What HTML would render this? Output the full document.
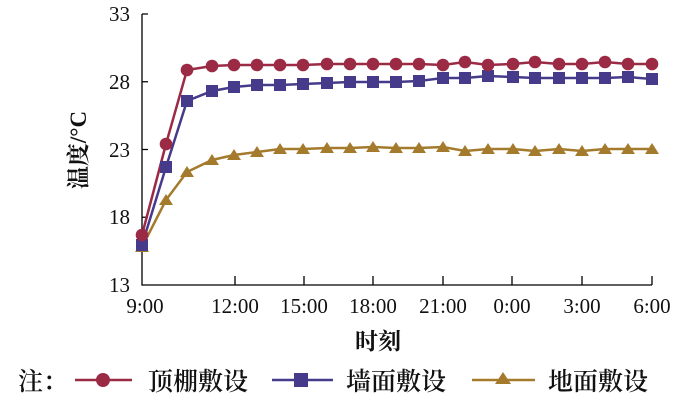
<!DOCTYPE html>
<html><head><meta charset="utf-8"><style>
body{margin:0;background:#fff;}
svg{display:block;}
.t{font-family:"Liberation Serif","Noto Serif CJK SC",serif;font-size:21px;fill:#111;}
.c{font-family:"Liberation Serif","Noto Serif CJK SC",serif;font-weight:bold;fill:#111;}
.l{font-family:"Liberation Serif","Noto Serif CJK SC",serif;font-size:25px;font-weight:600;fill:#111;}
</style></head><body>
<svg width="700" height="402" viewBox="0 0 700 402">
<g stroke="#000" stroke-width="1.3" fill="none">
<path d="M142,14 V285 H652"/>
<path d="M142,14h6M142,81.75h6M142,149.5h6M142,217.25h6"/>
<path d="M235,285v-9M304,285v-9M373,285v-9M443,285v-9M512,285v-9M582,285v-9M652,285v-9"/>
</g>
<g class="t" text-anchor="end">
<text x="130" y="21">33</text><text x="130" y="89">28</text><text x="130" y="157">23</text><text x="130" y="224">18</text><text x="130" y="292">13</text>
</g>
<g class="t" text-anchor="middle">
<text x="145" y="313">9:00</text><text x="235" y="313">12:00</text><text x="304" y="313">15:00</text><text x="373" y="313">18:00</text><text x="443" y="313">21:00</text><text x="512" y="313">0:00</text><text x="582" y="313">3:00</text><text x="652" y="313">6:00</text>
</g>
<text class="c" x="378" y="349" text-anchor="middle" font-size="23">时刻</text>
<text class="c" transform="translate(86,150) rotate(-90)" text-anchor="middle" font-size="23">温度/°C</text>
<polyline fill="none" stroke="#a47a2c" stroke-width="2.5" points="142,247 166,200 187,172 212,160 234,155 257,152 280,149 303,149 327,148 350,148 373,147 396,148 419,148 443,147 465,151 488,149 513,149 535,151 559,149 582,151 605,149 628,149 652,149"/>
<polyline fill="none" stroke="#463a8a" stroke-width="2.5" points="142,245 166,167 187,101 212,91 234,87 257,85 280,85 303,84 327,83 350,82 373,82 396,82 419,81 443,78 465,78 488,76 513,77 535,78 559,78 582,78 605,78 628,77 652,79"/>
<polyline fill="none" stroke="#9b2a45" stroke-width="2.5" points="142,235 166,144 187,70 212,66 234,65 257,65 280,65 303,65 327,64 350,64 373,64 396,64 419,64 443,65 465,62 488,65 513,64 535,62 559,64 582,64 605,62 628,64 652,64"/>
<g fill="#a47a2c">
<path d="M142,241l-7,11h14zM166,194l-7,11h14zM187,166l-7,11h14zM212,154l-7,11h14zM234,149l-7,11h14zM257,146l-7,11h14zM280,143l-7,11h14zM303,143l-7,11h14zM327,142l-7,11h14zM350,142l-7,11h14zM373,141l-7,11h14zM396,142l-7,11h14zM419,142l-7,11h14zM443,141l-7,11h14zM465,145l-7,11h14zM488,143l-7,11h14zM513,143l-7,11h14zM535,145l-7,11h14zM559,143l-7,11h14zM582,145l-7,11h14zM605,143l-7,11h14zM628,143l-7,11h14zM652,143l-7,11h14z"/>
</g>
<g fill="#463a8a">
<rect x="136" y="239" width="12" height="12"/><rect x="160" y="161" width="12" height="12"/><rect x="181" y="95" width="12" height="12"/><rect x="206" y="85" width="12" height="12"/><rect x="228" y="81" width="12" height="12"/><rect x="251" y="79" width="12" height="12"/><rect x="274" y="79" width="12" height="12"/><rect x="297" y="78" width="12" height="12"/><rect x="321" y="77" width="12" height="12"/><rect x="344" y="76" width="12" height="12"/><rect x="367" y="76" width="12" height="12"/><rect x="390" y="76" width="12" height="12"/><rect x="413" y="75" width="12" height="12"/><rect x="437" y="72" width="12" height="12"/><rect x="459" y="72" width="12" height="12"/><rect x="482" y="70" width="12" height="12"/><rect x="507" y="71" width="12" height="12"/><rect x="529" y="72" width="12" height="12"/><rect x="553" y="72" width="12" height="12"/><rect x="576" y="72" width="12" height="12"/><rect x="599" y="72" width="12" height="12"/><rect x="622" y="71" width="12" height="12"/><rect x="646" y="73" width="12" height="12"/>
</g>
<g fill="#9b2a45">
<circle cx="142" cy="235" r="6.3"/><circle cx="166" cy="144" r="6.3"/><circle cx="187" cy="70" r="6.3"/><circle cx="212" cy="66" r="6.3"/><circle cx="234" cy="65" r="6.3"/><circle cx="257" cy="65" r="6.3"/><circle cx="280" cy="65" r="6.3"/><circle cx="303" cy="65" r="6.3"/><circle cx="327" cy="64" r="6.3"/><circle cx="350" cy="64" r="6.3"/><circle cx="373" cy="64" r="6.3"/><circle cx="396" cy="64" r="6.3"/><circle cx="419" cy="64" r="6.3"/><circle cx="443" cy="65" r="6.3"/><circle cx="465" cy="62" r="6.3"/><circle cx="488" cy="65" r="6.3"/><circle cx="513" cy="64" r="6.3"/><circle cx="535" cy="62" r="6.3"/><circle cx="559" cy="64" r="6.3"/><circle cx="582" cy="64" r="6.3"/><circle cx="605" cy="62" r="6.3"/><circle cx="628" cy="64" r="6.3"/><circle cx="652" cy="64" r="6.3"/>
</g>
<!-- legend -->
<text class="l" x="18" y="390">注：</text>
<line x1="75" y1="380" x2="132" y2="380" stroke="#9b2a45" stroke-width="2.5"/><circle cx="103" cy="380" r="7" fill="#9b2a45"/>
<text class="l" x="148" y="390">顶棚敷设</text>
<line x1="272" y1="380" x2="333" y2="380" stroke="#463a8a" stroke-width="2.5"/><rect x="294" y="373" width="14" height="14" fill="#463a8a"/>
<text class="l" x="346" y="390">墙面敷设</text>
<line x1="472" y1="380" x2="535" y2="380" stroke="#a47a2c" stroke-width="2.5"/><path d="M503,372l-8,12h16z" fill="#a47a2c"/>
<text class="l" x="548" y="390">地面敷设</text>
</svg>
</body></html>
